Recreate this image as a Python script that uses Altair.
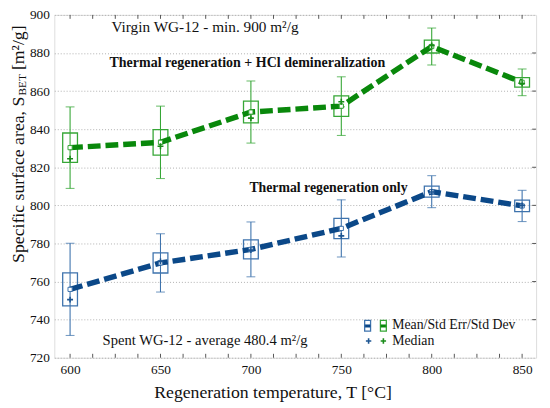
import altair as alt
import pandas as pd

# ---------------- data ----------------
temps = [600, 650, 700, 750, 800, 850]

thermal_mean = [755.9, 769.8, 776.9, 787.9, 807.2, 799.7]
thermal_se = [8.7, 5.3, 5.0, 5.3, 2.9, 3.0]
thermal_sd = [24.2, 15.3, 14.4, 15.0, 8.4, 8.2]
thermal_median = [750.5, 770.6, 776.5, 784.0, 807.0, 800.0]

hcl_mean = [830.3, 833.1, 849.0, 852.1, 883.4, 864.6]
hcl_se = [7.7, 6.7, 5.7, 5.4, 3.4, 2.5]
hcl_sd = [21.4, 19.0, 16.3, 15.4, 9.7, 7.0]
hcl_median = [824.5, 831.0, 845.8, 854.4, 884.0, 864.0]

series_names = ["Thermal regeneration only", "Thermal regeneration + HCl demineralization"]
y_ticks = [720, 740, 760, 780, 800, 820, 840, 860, 880, 900]
x_labels = [600, 650, 700, 750, 800, 850]
x_minor = [600, 612.5, 625, 637.5, 650, 662.5, 675, 687.5, 700, 712.5, 725, 737.5,
           750, 762.5, 775, 787.5, 800, 812.5, 825, 837.5, 850]
y_right_ticks = [740, 760, 780, 800, 820, 840, 860, 880]

# ---------------- styles ----------------
FONT = "Liberation Serif, Times New Roman, Times, serif"
line_colors = ["#0b4888", "#09880b"]
box_colors = ["#3e73ad", "#36a636"]
median_colors = ["#1d5592", "#1a8c1a"]
W, H = 489, 348

rows = []
for name, m, se, sd, md in [
    (series_names[0], thermal_mean, thermal_se, thermal_sd, thermal_median),
    (series_names[1], hcl_mean, hcl_se, hcl_sd, hcl_median),
]:
    for t, a, b, c, d in zip(temps, m, se, sd, md):
        rows.append({"series": name, "T": t, "mean": a,
                     "se_lo": a - b, "se_hi": a + b,
                     "sd_lo": a - c, "sd_hi": a + c, "median": d})
df = pd.DataFrame(rows)

xs = alt.Scale(domain=[594, 855], nice=False, zero=False)
ys = alt.Scale(domain=[720, 900], nice=False, zero=False)

X_axis = alt.Axis(values=x_labels, grid=False, ticks=False, domain=False,
                  labelOverlap=False, labelFlush=False,
                  labelFont=FONT, labelFontSize=13.5, labelColor="#111",
                  labelPadding=5, title=None)
Y_axis = alt.Axis(values=y_ticks, tickCount=10, grid=True, gridDash=[1, 2], gridColor="#b0b0b0",
                  ticks=False, domain=False, labelOverlap=False, labelFlush=False,
                  labelFont=FONT, labelFontSize=13.5,
                  labelColor="#111", labelPadding=5, title=None)


def xq(field):
    return alt.X(field, type="quantitative", scale=xs, axis=X_axis)


def yq(field):
    return alt.Y(field, type="quantitative", scale=ys, axis=Y_axis)


box_scale = alt.Scale(domain=series_names, range=box_colors)
line_scale = alt.Scale(domain=series_names, range=line_colors)
med_scale = alt.Scale(domain=series_names, range=median_colors)

base = alt.Chart(df)

whisk = base.mark_rule(strokeWidth=1.1).encode(
    x=xq("T"), y=yq("sd_lo"), y2="sd_hi:Q",
    color=alt.Color("series:N", scale=box_scale, legend=None))
cap_lo = base.mark_tick(orient="horizontal", size=9, thickness=1.1).encode(
    x=xq("T"), y=yq("sd_lo"), color=alt.Color("series:N", scale=box_scale, legend=None))
cap_hi = base.mark_tick(orient="horizontal", size=9, thickness=1.1).encode(
    x=xq("T"), y=yq("sd_hi"), color=alt.Color("series:N", scale=box_scale, legend=None))
boxes = base.mark_bar(size=15, fill="white", fillOpacity=0, strokeWidth=1.3).encode(
    x=xq("T"), y=yq("se_lo"), y2="se_hi:Q",
    stroke=alt.Stroke("series:N", scale=box_scale, legend=None))
line = base.mark_line(strokeDash=[13, 5], strokeWidth=5.5, strokeCap="butt").encode(
    x=xq("T"), y=yq("mean"), detail="series:N",
    color=alt.Color("series:N", scale=line_scale, legend=None))
means = base.mark_point(shape="square", size=18, filled=True, fill="white",
                        strokeWidth=1, opacity=1).encode(
    x=xq("T"), y=yq("mean"),
    stroke=alt.Stroke("series:N", scale=box_scale, legend=None))
PLUS = "M -1 0 L 1 0 M 0 -1 L 0 1"
medians = base.mark_point(shape=PLUS, size=36, filled=False, strokeWidth=1.6, opacity=1).encode(
    x=xq("T"), y=yq("median"),
    color=alt.Color("series:N", scale=med_scale, legend=None))

one = pd.DataFrame({"k": [0]})


def txt(text, x, y, size=14, weight="normal", align="left", angle=0, baseline="middle", color="#111"):
    return alt.Chart(one).mark_text(text=text, font=FONT, fontSize=size, fontWeight=weight,
                                    align=align, baseline=baseline, angle=angle, color=color).encode(
        x=alt.value(x), y=alt.value(y))


annotations = [
    txt("Virgin WG-12 - min. 900 m²/g", 58, 12, size=15.5),
    txt("Thermal regeneration + HCl demineralization", 56, 49, size=14.2, weight="bold"),
    txt("Thermal regeneration only", 198, 176, weight="bold"),
    txt("Spent WG-12 - average 480.4 m²/g", 49, 331, size=14.8),
    txt("Mean/Std Err/Std Dev", 343, 315),
    txt("Median", 343, 331),
    txt("Regeneration temperature, T [°C]", 222, 384, size=18, align="center"),
]

# y-axis title with subscript
yb = 71
ytitle = [
    txt("Specific surface area, S", -36, yb + 12, size=18, align="right", angle=270),
    txt("BET", -32, yb, size=11.5, align="center", angle=270),
    txt("[m²/g]", -36, yb - 15, size=18, align="left", angle=270),
]

# legend icons
def rect(x1, x2, y1, y2, fill, stroke, sw=1.3):
    return alt.Chart(one).mark_rect(fill=fill, stroke=stroke, strokeWidth=sw).encode(
        x=alt.value(x1), x2=alt.value(x2), y=alt.value(y1), y2=alt.value(y2))

legend_marks = [
    rect(315, 321, 310, 321, "white", box_colors[0]),
    rect(315.5, 320.5, 314.5, 317, line_colors[0], line_colors[0], 0.5),
    rect(331, 337, 310, 321, "white", box_colors[1]),
    rect(331.5, 336.5, 314.5, 317, line_colors[1], line_colors[1], 0.5),
    alt.Chart(one).mark_point(shape=PLUS, size=30, filled=False, strokeWidth=1.6,
                              color=median_colors[0], opacity=1).encode(
        x=alt.value(319), y=alt.value(331)),
    alt.Chart(one).mark_point(shape=PLUS, size=30, filled=False, strokeWidth=1.6,
                              color=median_colors[1], opacity=1).encode(
        x=alt.value(334), y=alt.value(331)),
]

# inward ticks on the frame
xt = pd.DataFrame({"T": x_minor})
yt = pd.DataFrame({"v": y_right_ticks})
ticks_bottom = alt.Chart(xt).mark_rule(color="#555", strokeWidth=1).encode(
    x=xq("T"), y=alt.value(H), y2=alt.value(H - 4))
ticks_top = alt.Chart(xt).mark_rule(color="#555", strokeWidth=1).encode(
    x=xq("T"), y=alt.value(0), y2=alt.value(4))
ticks_right = alt.Chart(yt).mark_rule(color="#555", strokeWidth=1).encode(
    y=yq("v"), x=alt.value(W), x2=alt.value(W - 4))

chart = alt.layer(
    whisk, cap_lo, cap_hi, boxes, line, means, medians,
    ticks_bottom, ticks_top, ticks_right,
    *annotations, *ytitle, *legend_marks,
).resolve_scale(
    color="independent", stroke="independent"
).properties(
    width=W, height=H,
    autosize=alt.AutoSizeParams(type="none"),
    padding={"left": 47, "top": 4, "right": 6, "bottom": 48},
).configure_view(stroke="#555", strokeWidth=1.5
).configure_axis(labelOverlap=False).configure(background="white")

chart.save("out.html", embed_options={"renderer": "svg", "actions": False})
